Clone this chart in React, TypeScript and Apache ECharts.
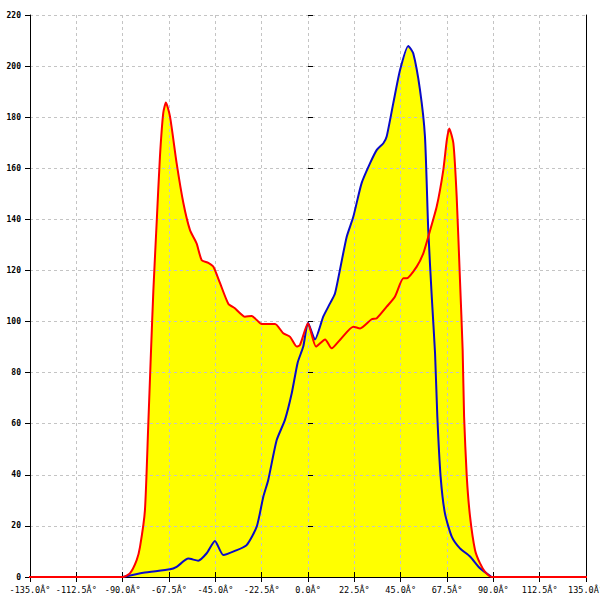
import React, { useEffect, useRef } from "react";
import * as echarts from "echarts";

const xTickInterval = 22.5;
const xMin = -135;
const xMax = 135;
const yMin = 0;
const yMax = 220;
const yTickInterval = 20;

const redX = [
  -150, -90, -86.4, -83.2, -81.6, -79.2, -77.6, -76.4, -75.1, -73.5, -71.9, -70.3, -69, -67, -63.8,
  -60.5, -57.3, -54.1, -51.6, -48.4, -46, -42.7, -38.7, -35.5, -30.6, -27.3, -24.9, -22.5, -16, -12,
  -8.7, -5.5, -3.9, 0, 3.9, 8.3, 11.5, 15.5, 22, 25.3, 30.9, 33.4, 38.2, 42.2, 46.3, 47.9, 52.8, 56,
  58.4, 62.5, 65.7, 67.4, 68.6, 70.6, 72.2, 73.8, 75.1, 75.8, 77.1, 78.7, 81.1, 83.5, 86, 89.2, 150,
];
const redY = [
  0, 0, 1.5, 6.6, 11.7, 26, 58.8, 85, 112, 138.6, 164.5, 181.6, 185.7, 180.2, 162,
  146.3, 135.8, 130.6, 124, 123, 121.5, 115, 107, 105.2, 101.9, 102.2, 100.6, 99, 99, 95.4,
  94, 90.2, 90.8, 99.3, 90.2, 93, 89.5, 92.8, 98, 97.3, 100.9, 101.3, 105.8, 109.7, 116.9, 116.9, 121.5, 126.7,
  133.2, 145, 159.3, 171, 175.6, 169.8, 148.9, 116.3, 88.9, 62.8, 39.3, 23.6, 10.6, 5.4, 2, 0, 0,
];

const blueX = [
  -90, -80, -67, -63.8, -58.1, -53.3, -49.2, -45.2, -41.1, -35.5, -29.8, -24.9, -21.7, -19.3, -15.2,
  -11.2, -7.9, -5, -2.3, 0, 3.4, 7.4, 10.7, 13.1, 15.5, 18.8, 22, 26, 30.1, 33.4, 36.6, 38.2, 41.4,
  44.7, 48.7, 51.1, 54.4, 56.8, 58.4, 60.1, 61.7, 62.8, 64.4, 66.5, 69.8, 73.8, 78.7, 83.5, 89.2,
];
const blueY = [
  0, 1.7, 3, 4, 7.2, 6.4, 9.3, 14.1, 8.6, 10.2, 12.5, 19.7, 31.4, 38, 53.6,
  61.5, 71.9, 84, 90.2, 99.5, 93, 101.9, 107.1, 111, 120.2, 133.2, 141, 154.1, 161.9, 167.2, 169.8, 172.4, 185.4,
  198.5, 207.9, 205, 190.6, 172.4, 135.8, 109.7, 87.5, 62.8, 39.3, 24.9, 15.8, 11.2, 8, 3.4, 0,
];

const degSuffix = "Â°";

function pairs(xs: number[], ys: number[]) {
  return xs.map((x, i) => [x, ys[i]]);
}

export default function App() {
  const ref = useRef<HTMLDivElement>(null);
  useEffect(() => {
    if (!ref.current) return;
    const chart = echarts.init(ref.current, undefined, { renderer: "svg" });
    const splitLine = {
      show: true,
      lineStyle: { color: "#c4c4c4", type: [3, 3] as any, width: 1 },
    };
    const labelFont = { fontFamily: "DejaVu Sans Mono", color: "#000" };
    const redData = pairs(redX, redY);
    const blueData = pairs(blueX, blueY);
    chart.setOption({
      animation: false,
      backgroundColor: "#fff",
      grid: {
        left: 30,
        right: 14,
        top: 15,
        bottom: 23,
        containLabel: false,
        outerBoundsMode: "none",
      },
      xAxis: [
        {
          type: "value",
          min: xMin,
          max: xMax,
          interval: xTickInterval,
          z: 3,
          axisLine: { show: true, onZero: false, lineStyle: { color: "#000", width: 1 } },
          axisTick: { show: true, inside: false, length: 5, lineStyle: { color: "#000" } },
          axisLabel: {
            ...labelFont,
            fontSize: 8.5,
            margin: 8,
            showMinLabel: true,
            showMaxLabel: true,
            hideOverlap: false,
            formatter: (v: number) => v.toFixed(1) + degSuffix,
          },
          splitLine,
        },
        {
          type: "value",
          min: xMin,
          max: xMax,
          interval: xTickInterval,
          position: "bottom",
          z: 3,
          axisLine: { show: false },
          axisTick: { show: true, inside: true, length: 5, lineStyle: { color: "#000" } },
          axisLabel: { show: false },
          splitLine: { show: false },
        },
      ],
      yAxis: [
        {
          type: "value",
          min: yMin,
          max: yMax,
          interval: yTickInterval,
          position: "left",
          z: 3,
          axisLine: { show: true, onZero: false, lineStyle: { color: "#000", width: 1 } },
          axisTick: { show: true, inside: false, length: 5, lineStyle: { color: "#000" } },
          axisLabel: { ...labelFont, fontSize: 8, margin: 9, fontWeight: "bold" },
          splitLine,
        },
        {
          type: "value",
          min: yMin,
          max: yMax,
          interval: yTickInterval,
          position: "left",
          z: 3,
          axisLine: { show: false },
          axisTick: { show: true, inside: true, length: 5, lineStyle: { color: "#000" } },
          axisLabel: { show: false },
          splitLine: { show: false },
        },
        {
          type: "value",
          min: yMin,
          max: yMax,
          interval: yTickInterval,
          position: "right",
          z: 3,
          axisLine: { show: true, onZero: false, lineStyle: { color: "#000", width: 1 } },
          axisTick: { show: false },
          axisLabel: { show: false },
          splitLine: { show: false },
        },
      ],
      series: [
        {
          type: "line",
          data: blueData,
          showSymbol: false,
          symbol: "none",
          clip: false,
          z: 1,
          lineStyle: { width: 0 },
          areaStyle: { color: "#ffff00", opacity: 1 },
        },
        {
          type: "line",
          data: redData,
          showSymbol: false,
          symbol: "none",
          clip: false,
          z: 1,
          lineStyle: { width: 0 },
          areaStyle: { color: "#ffff00", opacity: 1 },
        },
        {
          type: "line",
          data: blueData,
          showSymbol: false,
          symbol: "none",
          clip: false,
          z: 5,
          smooth: 0.2,
          lineStyle: { color: "#0a0ac8", width: 2 },
        },
        {
          type: "line",
          data: redData,
          showSymbol: false,
          symbol: "none",
          clip: false,
          z: 6,
          smooth: 0.2,
          lineStyle: { color: "#ff0000", width: 2 },
        },
      ],
    });
    return () => chart.dispose();
  }, []);
  return (
    <div
      ref={ref}
      style={{ position: "absolute", left: 0, top: 0, width: 600, height: 600 }}
    />
  );
}
